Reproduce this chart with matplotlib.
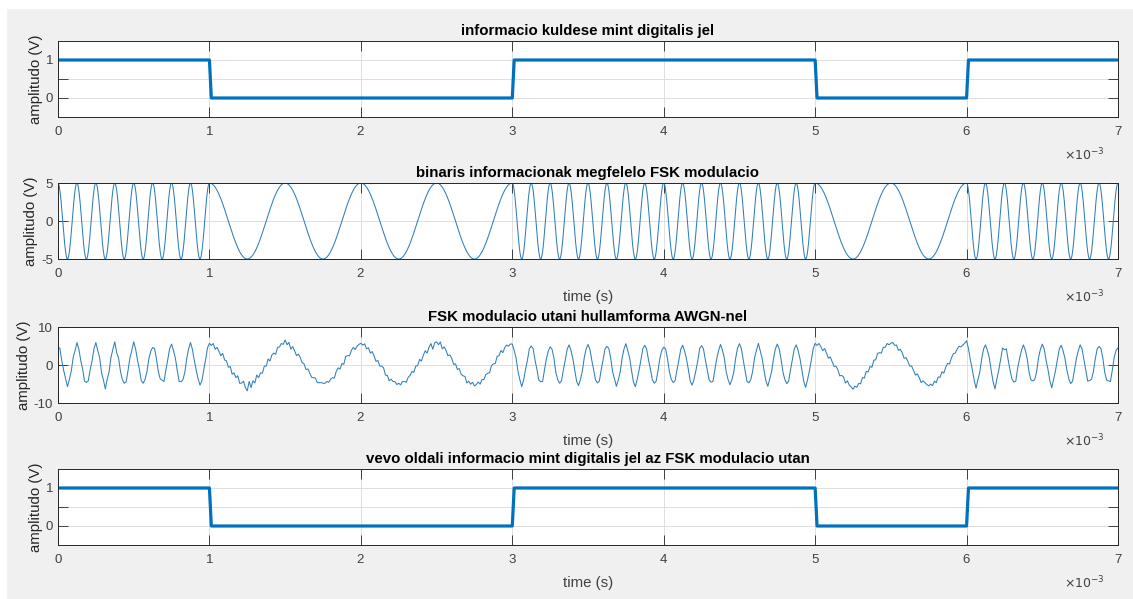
import numpy as np
import matplotlib
matplotlib.use('Agg')
from matplotlib import pyplot as plt
from matplotlib.ticker import ScalarFormatter
from matplotlib.patches import Rectangle

# bit sequence sent and received (one bit per ms)
sent_bits = [1, 0, 0, 1, 1, 0, 1]
received_bits = [1, 0, 0, 1, 1, 0, 1]
bit_time = 1e-3
f_one = 8000.0      # carrier for bit 1 (Hz)
f_zero = 2000.0     # carrier for bit 0 (Hz)
amplitude = 5.0
samples_per_bit = 80

# noise, tenths of a volt, one row per bit
noise_tenths = [
    [-2, 3, -4, 1, 5, -7, 2, -1, 4, -3, 9, 2, -3, 5, -2, 4, -1, 3, -4, 2,
     9, -2, 4, -5, 1, -13, 3, -2, 5, 1, 11, -8, 3, -1, 2, 2, -4, 1, 3, -2,
     11, 2, -3, 4, -1, 2, 3, -2, 1, -4, -4, 3, 1, -2, 4, 10, -3, 2, -1, 3,
     5, -2, 3, 1, -3, 6, 2, -4, 1, 2, 9, 1, -3, 2, 4, -3, -2, 3, -1, 5],
    [7, 2, 9, -3, 6, 1, -5, 8, -2, 3, -6, 4, -9, 2, -4, 7, -8, -3, 5, -10,
     -18, 6, -12, 3, -7, 9, -4, 2, -6, 5, -3, 8, -5, 4, 2, -7, 6, 3, 9, 5,
     16, 4, 12, -3, 8, 2, -5, 6, 4, -2, 3, -4, 5, 1, -3, 2, 6, -2, 1, 3,
     2, 1, 4, -1, 3, 2, -5, 6, 8, -3, 4, -6, 7, 2, -5, 3, 6, -4, 2, 5],
    [7, 3, 8, -2, 5, -4, 6, 1, -6, 4, -3, 5, 8, -4, 2, -6, 3, 1, 4, -2,
     2, -3, 4, 1, -5, 3, 2, 6, -4, 5, -2, 7, -5, 3, 8, -4, 6, 12, -6, 9,
     11, 4, 13, -2, 7, 3, -5, 4, 2, -6, 3, -4, 6, -2, 1, 5, -7, 2, -3, 4,
     -5, -2, 3, -6, 2, -3, 4, 1, -5, 6, 3, -4, 7, 2, 9, -3, 5, 8, 2, 6],
    [5, -2, 3, -1, 2, -7, 1, 4, -3, 2, 0, 3, -2, 4, 1, 6, -3, 2, 1, -4,
     -2, 1, 3, -4, 2, 2, -1, 3, -2, 1, 3, -2, 1, 2, -3, -4, 2, -1, 3, 2,
     4, 1, -3, 2, 1, 3, -2, 4, -1, 2, -1, 3, 2, -2, 4, -6, 1, -3, 2, 1,
     6, -2, 3, 1, -4, -7, 3, 2, -1, 3, 2, 1, -3, 4, 2, 2, -2, 1, 3, -2],
    [-3, 2, 1, -2, 3, 4, -1, 2, -3, 1, 2, -3, 1, 4, -2, -3, 2, 1, -4, 3,
     1, 2, -2, 3, 1, 5, -3, 2, 1, -2, 4, -1, 3, -2, 2, -2, 1, -3, 2, 4,
     6, 3, -2, 1, -3, 3, 2, -1, 4, -2, 7, -3, 2, 1, -2, -6, 3, -2, 1, 2,
     5, 2, -1, -3, 2, 1, -2, 3, -1, 2, 3, -2, 1, 2, -3, -9, 2, 1, -2, 3],
    [7, 2, 9, 4, -3, 8, 2, -5, 6, 1, -4, 5, 3, -6, 2, 4, -7, 3, -5, -8,
     -14, -6, -11, -4, -9, 2, -5, 6, -3, 4, -6, 5, -2, 8, 3, -4, 6, 2, 9, 4,
     7, 10, 4, 8, -2, 6, 3, -5, 4, 2, -3, 5, 1, -4, 6, 2, -6, 3, 1, -2,
     -5, -1, -7, 2, -6, 4, -3, 5, -6, 2, 4, -5, 3, 7, 2, 6, 9, 3, 5, 8],
    [14, 3, -2, 4, 1, -11, 2, -3, 1, 2, 3, -2, 4, 1, -3, -13, 3, 2, -1, 4,
     -10, 2, -3, 1, 3, 5, -2, 8, 1, -2, 3, -1, 2, -3, 1, 8, 2, -2, 3, 1,
     5, 2, -3, 4, -1, -10, 3, 1, -2, 2, 2, -3, 1, 2, 4, 1, -2, 3, 1, -3,
     3, 2, -1, 3, -2, 9, 3, -2, 1, 2, -1, 3, 2, -4, 1, 8, -3, 2, 5, -2],
]
noise_last = [-5]

titles = ['informacio kuldese mint digitalis jel',
          'binaris informacionak megfelelo FSK modulacio',
          'FSK modulacio utani hullamforma AWGN-nel',
          'vevo oldali informacio mint digitalis jel az FSK modulacio utan']


def digital(bits, n):
    k = np.arange(len(bits) * n + 1)
    idx = np.clip((k - 1) // n, 0, len(bits) - 1)
    t = k * bit_time / n
    return t, np.array(bits, dtype=float)[idx]


def fsk(bits, n):
    k = np.arange(len(bits) * n + 1)
    idx = np.clip(k // n, 0, len(bits) - 1)
    t = k * bit_time / n
    f = np.where(np.array(bits)[idx] == 1, f_one, f_zero)
    return t, amplitude * np.cos(2 * np.pi * f * t)


def style(ax, title, xlabel=True):
    ax.set_facecolor('white')
    ax.set_xlim(0, len(sent_bits) * bit_time)
    ax.set_xticks(np.arange(len(sent_bits) + 1) * bit_time)
    fmt = ScalarFormatter(useMathText=True)
    fmt.set_powerlimits((0, 0))
    ax.xaxis.set_major_formatter(fmt)
    ax.xaxis.get_offset_text().set_visible(False)
    ax.text(1 - 13 / 1060, -38 / 76, r'$\times10^{-3}$', transform=ax.transAxes,
            ha='right', va='center', fontsize=9, color='#404040')
    ax.tick_params(direction='in', length=7, width=0.6, top=True, right=True,
                   labelsize=9.5, colors='#262626', labelcolor='#404040')
    ax.tick_params(axis='x', pad=6)
    ax.grid(True, color='#dedede', linewidth=0.7)
    ax.set_axisbelow(True)
    for s in ax.spines.values():
        s.set_color('#262626')
        s.set_linewidth(0.7)
    ax.set_title(title, fontsize=10.8, fontweight='bold', pad=4)
    if xlabel:
        ax.set_xlabel('time (s)', fontsize=10.8, color='#404040', labelpad=7)
    ax.set_ylabel('amplitudo (V)', fontsize=10.8, color='#262626', labelpad=2)


def main():
    plt.rcParams['font.family'] = ['Liberation Sans', 'DejaVu Sans']
    plt.rcParams['axes.unicode_minus'] = False
    fig = plt.figure(figsize=(11.33, 5.99), dpi=100, facecolor='#f0f0f0')
    fig.patches.append(Rectangle((0, 1 - 8 / 599), 1, 8 / 599, transform=fig.transFigure,
                                 color='white', zorder=0))
    fig.patches.append(Rectangle((0, 0), 6 / 1133, 1, transform=fig.transFigure,
                                 color='white', zorder=0))

    left, width, height = 58 / 1133, 1060 / 1133, 76 / 599
    bottoms = [1 - 117 / 599, 1 - 259 / 599, 1 - 403 / 599, 1 - 545 / 599]
    axes = [fig.add_axes([left, b, width, height]) for b in bottoms]
    blue = '#0072BD'
    thin_blue = '#2f7fba'

    # panel 1: sent bits
    t, y = digital(sent_bits, samples_per_bit)
    axes[0].plot(t, y, color=blue, linewidth=2.3)
    axes[0].set_ylim(-0.5, 1.5)
    axes[0].set_yticks([0, 0.5, 1])
    axes[0].set_yticklabels(['0', '', '1'])

    # panel 2: clean FSK
    t, y = fsk(sent_bits, samples_per_bit * 8)
    axes[1].plot(t, y, color=thin_blue, linewidth=0.75)
    axes[1].set_ylim(-5, 5)
    axes[1].set_yticks([-5, 0, 5])

    # panel 3: FSK with noise
    t, y = fsk(sent_bits, samples_per_bit)
    noise = np.concatenate([np.ravel(noise_tenths), noise_last]) / 10.0
    axes[2].plot(t, y + noise, color=thin_blue, linewidth=0.75)
    axes[2].set_ylim(-10, 10)
    axes[2].set_yticks([-10, 0, 10])

    # panel 4: received bits
    t, y = digital(received_bits, samples_per_bit)
    axes[3].plot(t, y, color=blue, linewidth=2.3)
    axes[3].set_ylim(-0.5, 1.5)
    axes[3].set_yticks([0, 0.5, 1])
    axes[3].set_yticklabels(['0', '', '1'])

    for i, (ax, title) in enumerate(zip(axes, titles)):
        style(ax, title, xlabel=(i > 0))

    fig.savefig('out.png', dpi=100, facecolor=fig.get_facecolor())
    plt.close(fig)


if __name__ == '__main__':
    main()
